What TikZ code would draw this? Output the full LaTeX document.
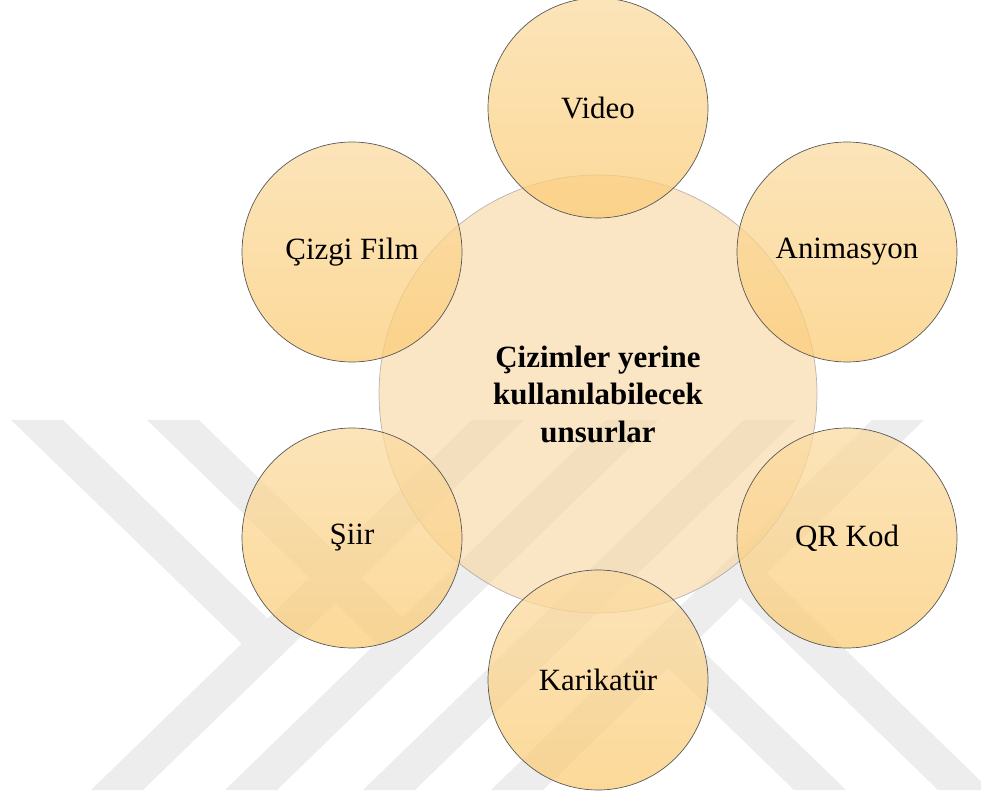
\documentclass[tikz,border=0pt]{standalone}
\usepackage{fontspec}
\setmainfont{Liberation Serif}
\definecolor{petaltop}{RGB}{251,219,162}
\definecolor{petalbot}{RGB}{251,204,118}
\definecolor{hubfill}{RGB}{247,212,158}
\begin{document}
\begin{tikzpicture}[scale=0.25,
  every node/.append style={inner sep=0pt, text opacity=1},
  wmark/.style={fill=black!7},
  hub/.style={circle, minimum size=10.95cm, fill=hubfill, fill opacity=0.6,
    draw=black!45, draw opacity=0.6, line width=0.5pt, align=center,
    font=\fontsize{22}{26.7}\selectfont\bfseries},
  petal/.style={circle, minimum size=5.5cm, top color=petaltop,
    bottom color=petalbot, fill opacity=0.75, draw=black!65, line width=0.5pt,
    font=\fontsize{22}{26.5}\selectfont}]
\useasboundingbox (0,0) rectangle (98.1,-79.6);
% watermark
\fill [wmark] (9.1,-79) -- (14.3,-79) -- (52.4,-42) -- (47.2,-42) -- cycle;
\fill [wmark] (22.5,-79) -- (27.7,-79) -- (65.8,-42) -- (60.6,-42) -- cycle;
\fill [wmark] (36.3,-79) -- (41.5,-79) -- (79.6,-42) -- (74.4,-42) -- cycle;
\fill [wmark] (49.1,-79) -- (54.3,-79) -- (92.4,-42) -- (87.2,-42) -- cycle;
\fill [wmark] (1.1,-42) -- (6.3,-42) -- (29.4,-64.4) -- (24.2,-64.4) -- cycle;
\fill [wmark] (14.7,-42) -- (19.9,-42) -- (42.85,-64.3) -- (37.65,-64.3) -- cycle;
\fill [wmark] (79.4,-79) -- (84.6,-79) -- (69.46,-64.3) -- (64.26,-64.3) -- cycle;
\fill [wmark] (93.8,-79) -- (99,-79) -- (76.65,-57.3) -- (71.45,-57.3) -- cycle;
% circles
\node [hub] (hub) at (59.8,-39.4) {Çizimler yerine\\kullanılabilecek\\unsurlar};
\node [petal] (video) at (59.8,-10.8) {Video};
\node [petal] (anim) at (84.7,-25.2) {Animasyon};
\node [petal] (qrkod) at (84.7,-53.8) {QR Kod};
\node [petal] (karikatur) at (59.8,-68.0) {Karikatür};
\node [petal] (siir) at (35.2,-53.8) {Şiir};
\node [petal] (cizgi) at (35.2,-25.2) {Çizgi Film};
\end{tikzpicture}
\end{document}
